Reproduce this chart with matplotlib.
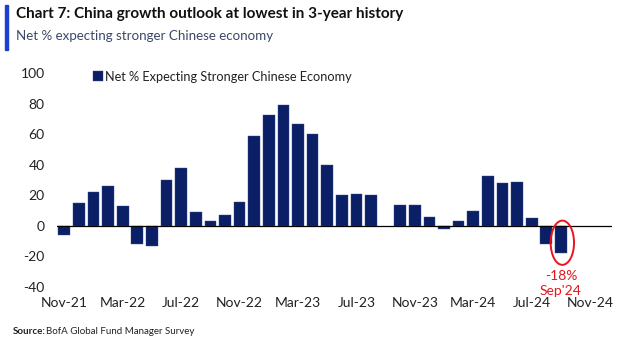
import numpy as np
import matplotlib.pyplot as plt
import matplotlib.patches as mpatches

months = ['Nov-21', 'Dec-21', 'Jan-22', 'Feb-22', 'Mar-22', 'Apr-22', 'May-22', 'Jun-22',
          'Jul-22', 'Aug-22', 'Sep-22', 'Oct-22', 'Nov-22', 'Dec-22', 'Jan-23', 'Feb-23',
          'Mar-23', 'Apr-23', 'May-23', 'Jun-23', 'Jul-23', 'Aug-23', 'Sep-23', 'Oct-23',
          'Nov-23', 'Dec-23', 'Jan-24', 'Feb-24', 'Mar-24', 'Apr-24', 'May-24', 'Jun-24',
          'Jul-24', 'Aug-24', 'Sep-24']
net_pct = [-6, 15, 22, 26, 13, -12, -13, 30,
           38, 9, 3, 7, 16, 59, 73, 79,
           67, 60, 40, 20, 21, 20, np.nan, 14,
           14, 6, -2, 3, 10, 33, 28, 29,
           5, -12, -18]
tick_labels = ['Nov-21', 'Mar-22', 'Jul-22', 'Nov-22', 'Mar-23', 'Jul-23',
               'Nov-23', 'Mar-24', 'Jul-24', 'Nov-24']
yticks = [-40, -20, 0, 20, 40, 60, 80, 100]

navy = '#0b1f66'
red = '#e8141c'
plt.rcParams['font.family'] = ['Lato', 'DejaVu Sans']

fig = plt.figure(figsize=(6.22, 3.41), dpi=100)
ax = fig.add_axes([57 / 622, 1 - 287 / 341, 555 / 622, (287 - 73.3) / 341])

x = np.arange(len(months))
ax.bar(x, net_pct, width=0.8, color=navy, edgecolor='#3a4f8f', linewidth=0.3,
       label='Net % Expecting Stronger Chinese Economy')
ax.axhline(0, color='black', lw=0.9, zorder=3)

ax.set_xlim(-0.5, 37.5)
ax.set_ylim(-40, 100)
ax.set_yticks(yticks)
ax.set_yticklabels([str(v) for v in yticks])
ax.set_xticks(np.arange(0, 37, 4))
ax.set_xticklabels(tick_labels)
ax.tick_params(length=0, labelsize=10, colors='#222222')
ax.tick_params(axis='y', pad=9)
ax.tick_params(axis='x', pad=7)
for s in ax.spines.values():
    s.set_visible(False)

ax.legend(loc='center left', bbox_to_anchor=(0.055, 0.985), frameon=False,
          handlelength=0.8, handleheight=0.8, handletextpad=0.2,
          borderaxespad=0, fontsize=9.2, labelcolor='#222222')

# highlight last reading
i_last = len(months) - 1
ell = mpatches.Ellipse((i_last + 0.1, -11), 1.6, 29, fill=False,
                       edgecolor=red, lw=1.4, zorder=4)
ax.add_patch(ell)
ax.text(i_last, -33, '%d%%' % net_pct[-1], color=red, fontsize=10,
        ha='center', va='center', clip_on=False)
ax.text(i_last, -42.5, "Sep'24", color=red, fontsize=10,
        ha='center', va='center', clip_on=False)

# header
fig.patches.append(mpatches.Rectangle((5 / 622, 1 - 50 / 341), 3 / 622, 45 / 341,
                                      transform=fig.transFigure, color='#1a3fd1'))
fig.text(16 / 622, 1 - 14 / 341, 'Chart 7: China growth outlook at lowest in 3-year history',
         fontsize=11, fontweight='bold', color='#111111', va='center')
fig.text(16 / 622, 1 - 36 / 341, 'Net % expecting stronger Chinese economy',
         fontsize=9.6, color='#3b4866', va='center')
fig.text(13 / 622, 1 - 332 / 341, 'Source:', fontsize=7, fontweight='bold',
         color='#222222', va='center')
fig.text(46 / 622, 1 - 332 / 341, 'BofA Global Fund Manager Survey', fontsize=7,
         color='#222222', va='center')

plt.savefig('out.png', dpi=100)
